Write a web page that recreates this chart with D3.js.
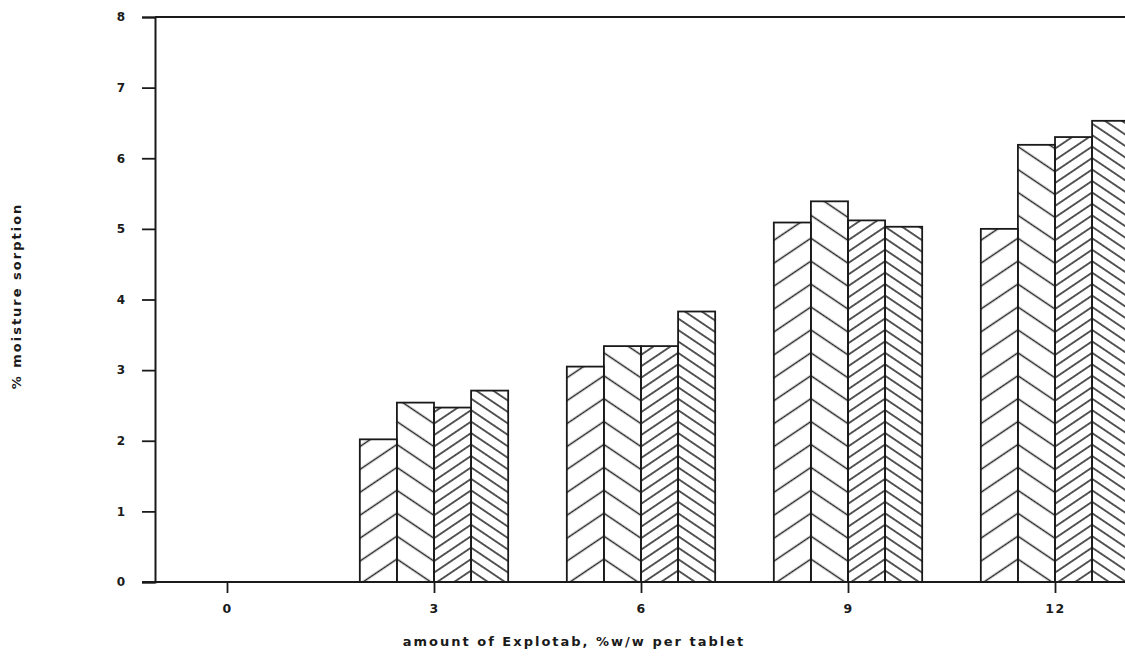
<!DOCTYPE html>
<html>
<head>
<meta charset="utf-8">
<script src="https://cdn.jsdelivr.net/npm/d3@7"></script>
<style>
  html, body { margin: 0; padding: 0; background: #fff; }
  svg { display: block; }
  text { font-family: "DejaVu Sans", sans-serif; font-weight: bold; fill: #1a1a1a; }
</style>
</head>
<body>
<div id="chart"></div>
<script>
// amount of Explotab, %w/w per tablet
const categories = [0, 3, 6, 9, 12];
// four series per group (hatch patterns: /, \, dense /, dense \)
const series = ["s1", "s2", "s3", "s4"];
const s1 = [0, 2.02, 3.05, 5.09, 5.00];
const s2 = [0, 2.54, 3.34, 5.39, 6.19];
const s3 = [0, 2.47, 3.34, 5.12, 6.30];
const s4 = [0, 2.71, 3.83, 5.03, 6.53];
const yTicks = [0, 1, 2, 3, 4, 5, 6, 7, 8];

const W = 1125, H = 660;
const values = [s1, s2, s3, s4];
const data = [];
categories.forEach((c, i) => {
  series.forEach((s, j) => data.push({ cat: c, series: s, idx: j, value: values[j][i] }));
});

const svg = d3.select("#chart").append("svg")
  .attr("width", W)
  .attr("height", H);

const axisX0 = 155;
const x = d3.scaleLinear().domain([0, 12]).range([227, 1055]);
const y = d3.scaleLinear().domain([0, 8]).range([582, 17]);

const groupW = x(2.15) - x(0);
const xs = d3.scaleBand().domain(series).range([-groupW / 2, groupW / 2]).padding(0);

// hatch styles: spacing between lines and angle
const hatch = {
  s1: { d: 19, a: -34 },
  s2: { d: 19, a: 34 },
  s3: { d: 9.5, a: -34 },
  s4: { d: 9.5, a: 34 }
};

const defs = svg.append("defs");
data.forEach((d, k) => {
  if (d.value <= 0) return;
  const h = hatch[d.series];
  const left = x(d.cat) + xs(d.series);
  // anchor each pair at their shared edge so lines meet as chevrons
  const ax = (d.idx % 2 === 0) ? left + xs.bandwidth() : left;
  d.pid = "hatch" + k;
  const p = defs.append("pattern")
    .attr("id", d.pid)
    .attr("patternUnits", "userSpaceOnUse")
    .attr("width", h.d)
    .attr("height", h.d)
    .attr("patternTransform", `translate(${ax},${y(0)}) rotate(${h.a}) translate(0,${-h.d / 2})`);
  p.append("line")
    .attr("x1", -1).attr("x2", h.d + 1)
    .attr("y1", h.d / 2).attr("y2", h.d / 2)
    .attr("stroke", "#222")
    .attr("stroke-width", 1.5);
});

// bars
svg.append("g")
  .selectAll("rect")
  .data(data.filter(d => d.value > 0))
  .join("rect")
  .attr("x", d => x(d.cat) + xs(d.series))
  .attr("y", d => y(d.value))
  .attr("width", xs.bandwidth())
  .attr("height", d => y(0) - y(d.value))
  .attr("fill", d => `url(#${d.pid})`)
  .attr("stroke", "#1a1a1a")
  .attr("stroke-width", 1.8);

// top border line
svg.append("line")
  .attr("x1", axisX0).attr("x2", W)
  .attr("y1", y(8)).attr("y2", y(8))
  .attr("stroke", "#1a1a1a").attr("stroke-width", 2);

// Y axis
const yAxis = svg.append("g")
  .attr("transform", `translate(${axisX0},0)`)
  .call(d3.axisLeft(y).tickValues(yTicks).tickSize(13).tickPadding(17).tickFormat(d3.format("d")));
yAxis.select(".domain").attr("stroke", "#1a1a1a").attr("stroke-width", 2);
yAxis.selectAll(".tick line").attr("stroke", "#1a1a1a").attr("stroke-width", 1.8);
yAxis.selectAll("text").style("font-size", "12px").attr("fill", "#1a1a1a");

// X axis
const xAxis = svg.append("g")
  .attr("transform", `translate(0,${y(0)})`)
  .call(d3.axisBottom(x).tickValues(categories).tickSize(11).tickPadding(11).tickFormat(d3.format("d")));
xAxis.select(".domain").remove();
xAxis.append("line")
  .attr("x1", axisX0 - 13).attr("x2", W)
  .attr("stroke", "#1a1a1a").attr("stroke-width", 2);
xAxis.selectAll(".tick line").attr("stroke", "#1a1a1a").attr("stroke-width", 1.8);
xAxis.selectAll("text").style("font-size", "12.5px").style("letter-spacing", "1.5px").attr("fill", "#1a1a1a");

// axis titles
svg.append("text")
  .attr("x", 574)
  .attr("y", 646)
  .attr("text-anchor", "middle")
  .style("font-size", "13px")
  .style("letter-spacing", "2px")
  .text("amount of Explotab, %w/w per tablet");

svg.append("text")
  .attr("transform", `translate(21,${296}) rotate(-90)`)
  .attr("text-anchor", "middle")
  .style("font-size", "13px")
  .style("letter-spacing", "2px")
  .text("% moisture sorption");
</script>
</body>
</html>
